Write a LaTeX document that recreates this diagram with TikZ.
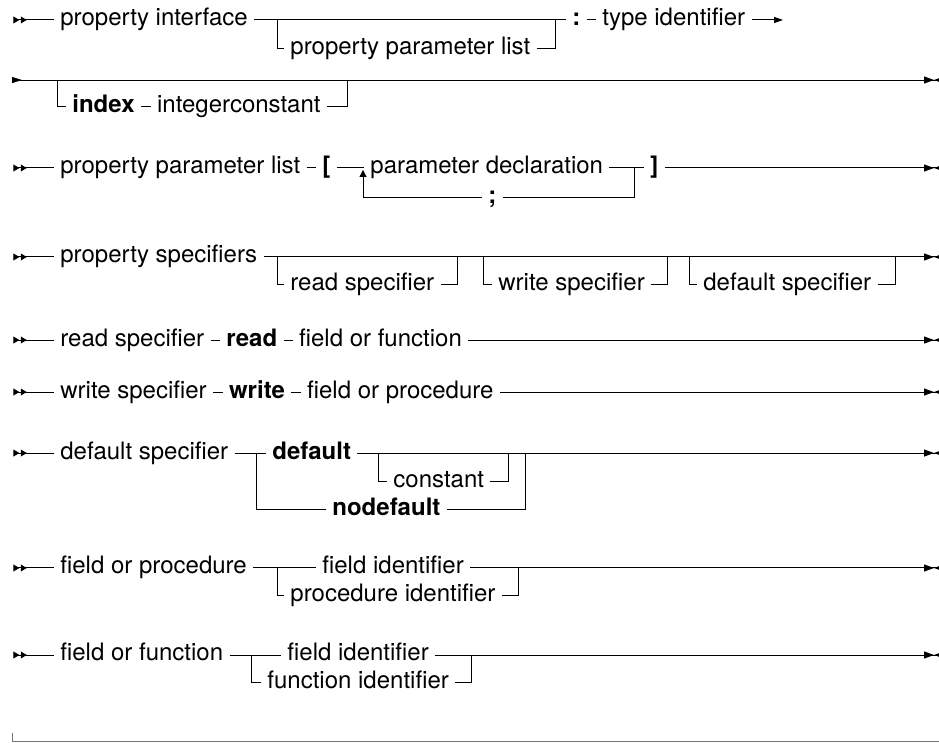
\documentclass[tikz,border=0pt]{standalone}
\usepackage{fontspec}
\setmainfont{TeX Gyre Heros}
\usetikzlibrary{arrows.meta}
\pgfdeclarelayer{nodelayer}
\pgfdeclarelayer{edgelayer}
\pgfsetlayers{edgelayer,nodelayer,main}
\tikzstyle{nonterminal}=[fill=none, draw=none, shape=rectangle, anchor=west, inner xsep=3pt, inner ysep=0pt, text height=8.5pt, text depth=2.5pt, font=\fontsize{12}{14}\selectfont]
\tikzstyle{keyword}=[nonterminal, font=\fontsize{12}{14}\selectfont\bfseries]
\tikzstyle{none}=[fill=none, draw=none, shape=circle, scale=0]
\tikzstyle{rail}=[draw=black, line width=0.5pt]
\tikzstyle{rail in}=[rail, {Triangle[reversed, length=3pt, width=3.4pt, sep=0.7pt] Triangle[reversed, length=3pt, width=3.4pt, sep=0.7pt]}-]
\tikzstyle{rail out}=[rail, -{Triangle[length=5pt, width=3.5pt] Triangle[reversed, length=5pt, width=3.5pt]}]
\tikzstyle{rail on}=[rail, -{Triangle[length=4.5pt, width=3pt]}]
\tikzstyle{rail resume}=[rail, {Triangle[reversed, length=5pt, width=3pt]}-{Triangle[length=5pt, width=3.5pt] Triangle[reversed, length=5pt, width=3.5pt]}]
\tikzstyle{rail back}=[rail, -{Triangle[length=3.5pt, width=3.5pt]}]
\tikzstyle{page rule}=[draw=black!55, line width=0.5pt]

\begin{document}
\begin{tikzpicture}
	\useasboundingbox (0, 0) rectangle (16.501, -13.039);
	\begin{pgfonlayer}{nodelayer}
		% property interface
		\node [style=none] (0) at (0.211, -0.351) {};
		\node [style=nonterminal] (1) at (0.949, -0.351) {property interface};
		\node [style=none] (2) at (4.868, -0.351) {};
		\node [style=nonterminal] (3) at (4.991, -0.844) {property parameter list};
		\node [style=none] (4) at (9.753, -0.351) {};
		\node [style=keyword] (5) at (9.946, -0.351) {:};
		\node [style=nonterminal] (6) at (10.473, -0.351) {type identifier};
		\node [style=none] (7) at (13.760, -0.351) {};
		\node [style=none] (8) at (0.211, -1.406) {};
		\node [style=none] (9) at (1.019, -1.406) {};
		\node [style=keyword] (10) at (1.160, -1.863) {index};
		\node [style=nonterminal] (11) at (2.648, -1.863) {integerconstant};
		\node [style=none] (12) at (6.115, -1.406) {};
		\node [style=none] (13) at (16.589, -1.406) {};
		% property parameter list
		\node [style=none] (14) at (0.211, -2.952) {};
		\node [style=nonterminal] (15) at (0.949, -2.952) {property parameter list};
		\node [style=keyword] (16) at (5.553, -2.952) {[};
		\node [style=none] (17) at (6.379, -2.952) {};
		\node [style=nonterminal] (18) at (6.397, -2.952) {parameter declaration};
		\node [style=none] (19) at (11.141, -2.952) {};
		\node [style=keyword] (20) at (11.317, -2.952) {]};
		\node [style=none] (21) at (16.589, -2.952) {};
		\node [style=keyword] (22) at (8.470, -3.462) {;};
		\node [style=none] (23) at (6.379, -2.987) {};
		% property specifiers
		\node [style=none] (24) at (0.211, -4.516) {};
		\node [style=nonterminal] (25) at (0.949, -4.516) {property specifiers};
		\node [style=none] (26) at (16.589, -4.516) {};
		\node [style=none] (27) at (4.868, -4.516) {};
		\node [style=nonterminal] (28) at (4.991, -5.008) {read specifier};
		\node [style=none] (29) at (8.048, -4.516) {};
		\node [style=none] (30) at (8.488, -4.516) {};
		\node [style=nonterminal] (31) at (8.646, -5.008) {write specifier};
		\node [style=none] (32) at (11.721, -4.516) {};
		\node [style=none] (33) at (12.125, -4.516) {};
		\node [style=nonterminal] (34) at (12.248, -5.008) {default specifier};
		\node [style=none] (35) at (15.728, -4.516) {};
		% read / write specifier
		\node [style=none] (36) at (0.211, -5.975) {};
		\node [style=nonterminal] (37) at (0.949, -5.975) {read specifier};
		\node [style=keyword] (38) at (3.866, -5.975) {read};
		\node [style=nonterminal] (39) at (5.144, -5.975) {field or function};
		\node [style=none] (40) at (16.589, -5.975) {};
		\node [style=none] (41) at (0.211, -6.889) {};
		\node [style=nonterminal] (42) at (0.949, -6.889) {write specifier};
		\node [style=keyword] (43) at (3.913, -6.889) {write};
		\node [style=nonterminal] (44) at (5.284, -6.889) {field or procedure};
		\node [style=none] (45) at (16.589, -6.889) {};
		% default specifier
		\node [style=none] (46) at (0.211, -7.961) {};
		\node [style=nonterminal] (47) at (0.949, -7.961) {default specifier};
		\node [style=none] (48) at (4.516, -7.961) {};
		\node [style=keyword] (49) at (4.674, -7.961) {default};
		\node [style=none] (50) at (6.643, -7.961) {};
		\node [style=nonterminal] (51) at (6.801, -8.453) {constant};
		\node [style=none] (52) at (8.927, -7.961) {};
		\node [style=keyword] (53) at (5.729, -8.945) {nodefault};
		\node [style=none] (54) at (9.226, -7.961) {};
		\node [style=none] (55) at (16.589, -7.961) {};
		% field or procedure / function
		\node [style=none] (56) at (0.211, -9.981) {};
		\node [style=nonterminal] (57) at (0.949, -9.981) {field or procedure};
		\node [style=none] (58) at (4.868, -9.981) {};
		\node [style=nonterminal] (59) at (5.553, -9.981) {field identifier};
		\node [style=nonterminal] (60) at (4.991, -10.473) {procedure identifier};
		\node [style=none] (61) at (9.120, -9.981) {};
		\node [style=none] (62) at (16.589, -9.981) {};
		\node [style=none] (63) at (0.211, -11.510) {};
		\node [style=nonterminal] (64) at (0.949, -11.510) {field or function};
		\node [style=none] (65) at (4.428, -11.510) {};
		\node [style=nonterminal] (66) at (4.938, -11.510) {field identifier};
		\node [style=nonterminal] (67) at (4.587, -12.002) {function identifier};
		\node [style=none] (68) at (8.294, -11.510) {};
		\node [style=none] (69) at (16.589, -11.510) {};
		\node [style=none] (70) at (0.228, -12.881) {};
		\node [style=none] (71) at (0.228, -13.025) {};
		\node [style=none] (72) at (16.501, -13.025) {};
	\end{pgfonlayer}
	\begin{pgfonlayer}{edgelayer}
		\draw [style=rail in] (0.center) to (1);
		\draw [style=rail] (1) to (4.center);
		\draw [style=rail] (2.center) |- (3);
		\draw [style=rail] (3) -| (4.center);
		\draw [style=rail] (4.center) to (5);
		\draw [style=rail] (5) to (6);
		\draw [style=rail on] (6) to (7.center);
		\draw [style=rail resume] (8.center) to (13.center);
		\draw [style=rail] (9.center) |- (10);
		\draw [style=rail] (10) to (11);
		\draw [style=rail] (11) -| (12.center);
		\draw [style=rail in] (14.center) to (15);
		\draw [style=rail] (15) to (16);
		\draw [style=rail] (16) to (18);
		\draw [style=rail] (18) to (19.center);
		\draw [style=rail] (19.center) to (20);
		\draw [style=rail out] (20) to (21.center);
		\draw [style=rail] (19.center) |- (22);
		\draw [style=rail back] (22) -| (23.center);
		\draw [style=rail in] (24.center) to (25);
		\draw [style=rail out] (25) to (26.center);
		\draw [style=rail] (27.center) |- (28);
		\draw [style=rail] (28) -| (29.center);
		\draw [style=rail] (30.center) |- (31);
		\draw [style=rail] (31) -| (32.center);
		\draw [style=rail] (33.center) |- (34);
		\draw [style=rail] (34) -| (35.center);
		\draw [style=rail in] (36.center) to (37);
		\draw [style=rail] (37) to (38);
		\draw [style=rail] (38) to (39);
		\draw [style=rail out] (39) to (40.center);
		\draw [style=rail in] (41.center) to (42);
		\draw [style=rail] (42) to (43);
		\draw [style=rail] (43) to (44);
		\draw [style=rail out] (44) to (45.center);
		\draw [style=rail in] (46.center) to (47);
		\draw [style=rail] (47) to (49);
		\draw [style=rail out] (49) to (55.center);
		\draw [style=rail] (48.center) |- (53);
		\draw [style=rail] (53) -| (54.center);
		\draw [style=rail] (50.center) |- (51);
		\draw [style=rail] (51) -| (52.center);
		\draw [style=rail in] (56.center) to (57);
		\draw [style=rail] (57) to (59);
		\draw [style=rail out] (59) to (62.center);
		\draw [style=rail] (58.center) |- (60);
		\draw [style=rail] (60) -| (61.center);
		\draw [style=rail in] (63.center) to (64);
		\draw [style=rail] (64) to (66);
		\draw [style=rail out] (66) to (69.center);
		\draw [style=rail] (65.center) |- (67);
		\draw [style=rail] (67) -| (68.center);
		\draw [style=page rule] (70.center) to (71.center) to (72.center);
	\end{pgfonlayer}
\end{tikzpicture}
\end{document}
